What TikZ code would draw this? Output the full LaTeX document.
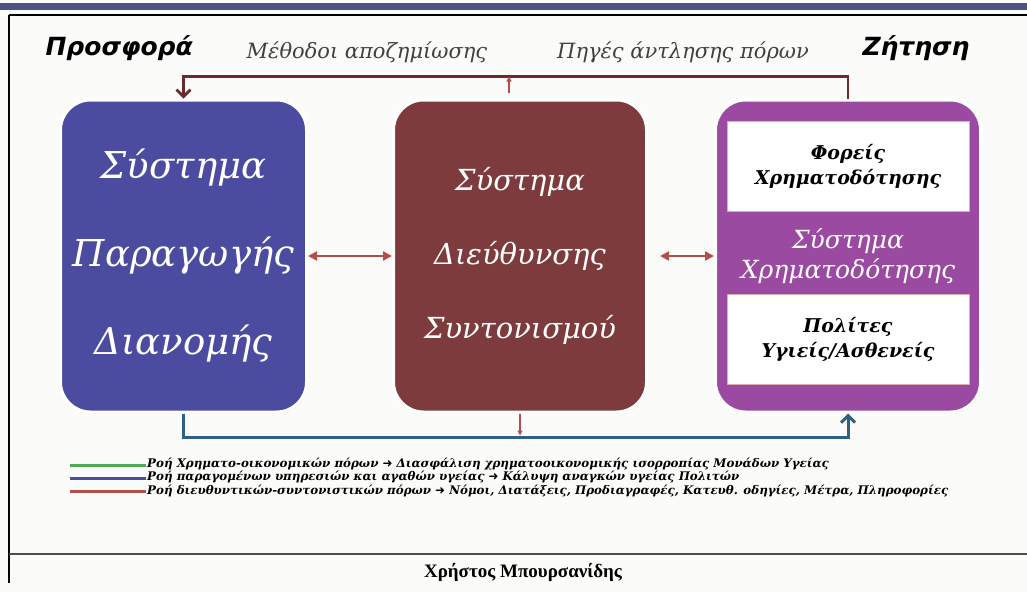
\documentclass[tikz,border=0pt]{standalone}
\usepackage{fontspec}
\setmainfont{Liberation Serif}
\setsansfont{DejaVu Sans}
\newfontfamily\boxfont{DejaVu Serif}
\newfontfamily\arrowfont{DejaVu Sans}
\usepackage{tikz}
\usetikzlibrary{positioning, arrows.meta, calc, shadows}
\usepackage{xcolor}
\definecolor{prodblue}{HTML}{4B4BA0}
\definecolor{dirbrown}{HTML}{7D3B3D}
\definecolor{finpurple}{HTML}{9A4AA0}
\definecolor{flowred}{HTML}{B24E4C}
\definecolor{topred}{HTML}{6B2A2C}
\definecolor{flowteal}{HTML}{2F6282}
\definecolor{legreen}{HTML}{4FAA55}
\definecolor{barblue}{HTML}{4E5285}
\definecolor{paper}{HTML}{FBFBF9}
\newcommand{\goesto}{{\arrowfont ➜}}

\begin{document}
\begin{tikzpicture}[
  x=1pt, y=1pt,
  sysbox/.style={rounded corners=30pt, draw=white, line width=3pt, minimum height=312pt,
    align=center, text=white, drop shadow={opacity=0.2, shadow xshift=1pt, shadow yshift=-1.5pt}},
  inbox/.style={draw=flowred!45, line width=0.8pt, fill=white, minimum width=242pt, minimum height=90pt,
    align=center, font=\boxfont\bfseries\itshape\fontsize{19}{25}\selectfont},
  head/.style={font=\sffamily\bfseries\itshape\fontsize{25}{28}\selectfont},
  flowlbl/.style={font=\boxfont\itshape\fontsize{21}{26}\selectfont, text=black!75},
  legline/.style={line width=3pt},
  legtxt/.style={anchor=west, inner sep=1pt, text height=8pt, text depth=3pt,
    font=\boxfont\bfseries\itshape\fontsize{11.85}{13}\selectfont},
  barb/.style={-{Straight Barb[length=7pt, width=14pt]}},
  small/.style={flowred, line width=1.5pt, -{Triangle[length=5pt, width=5pt]}},
]
  % page frame
  \fill[paper] (0,0) rectangle (1027,-592);
  \useasboundingbox (0,0) rectangle (1027,-592);
  \fill[barblue] (0,-3) rectangle (1027,-10);
  \draw[line width=1.5pt] (9,-15) -- (1027,-15);
  \draw[line width=2pt] (9,-15) -- (9,-583);
  \draw[line width=1.2pt, black!70] (9,-554) -- (1027,-554);

  % the three systems
  \node[sysbox, fill=prodblue, minimum width=246pt, font=\boxfont\itshape\fontsize{37}{88}\selectfont] (prod)
    at (183.5,-256) {Σύστημα\\Παραγωγής\\Διανομής};
  \node[sysbox, fill=dirbrown, minimum width=253pt, right=84pt of prod, font=\boxfont\itshape\fontsize{29}{74}\selectfont] (dir)
    {Σύστημα\\Διεύθυνσης\\Συντονισμού};
  \node[sysbox, fill=finpurple, minimum width=265pt, right=66pt of dir, font=\boxfont\itshape\fontsize{25}{30}\selectfont] (fin)
    {Σύστημα\\Χρηματοδότησης};
  \node[inbox, below=22pt of fin.north] (funders) {Φορείς\\Χρηματοδότησης};
  \node[inbox, above=29pt of fin.south] (citizens) {Πολίτες\\Υγιείς/Ασθενείς};

  % headings
  \node[head, anchor=west] (supply) at (42,-48) {Προσφορά};
  \node[head] (demand) at (916,-48) {Ζήτηση};
  \node[flowlbl] (pay) at (367,-52) {Μέθοδοι αποζημίωσης};
  \node[flowlbl] (src) at (683,-52) {Πηγές άντλησης πόρων};

  % flows
  \draw[topred, line width=2.8pt, barb] (fin.north) -- ++(0,22) -| (prod.north);
  \draw[small] ([xshift=-11pt, yshift=6pt]dir.north) -- ++(0,16);
  \draw[flowred, line width=2.5pt, {Triangle[length=9pt, width=9pt]}-{Triangle[length=9pt, width=9pt]}]
    (prod.east) -- (dir.west);
  \draw[flowred, line width=2.5pt, {Triangle[length=9pt, width=9pt]}-{Triangle[length=9pt, width=9pt]}]
    ([xshift=12pt]dir.east) -- (fin.west);
  \draw[flowteal, line width=3pt, barb] (prod.south) -- ++(0,-24) -| (fin.south);
  \draw[small] (dir.south) -- ++(0,-22);

  % legend
  \node[legtxt] (leg1) at (146,-465)
    {Ροή Χρηματο-οικονομικών πόρων \goesto{} Διασφάλιση χρηματοοικονομικής ισορροπίας Μονάδων Υγείας};
  \node[legtxt, below=0pt of leg1.south west, anchor=north west] (leg2)
    {Ροή παραγομένων υπηρεσιών και αγαθών υγείας \goesto{} Κάλυψη αναγκών υγείας Πολιτών};
  \node[legtxt, below=0pt of leg2.south west, anchor=north west] (leg3)
    {Ροή διευθυντικών-συντονιστικών πόρων \goesto{} Νόμοι, Διατάξεις, Προδιαγραφές, Κατευθ. οδηγίες, Μέτρα, Πληροφορίες};
  \draw[legline, legreen] ($(leg1.west)+(-76,0)$) -- (leg1.west);
  \draw[legline, prodblue] ($(leg2.west)+(-76,0)$) -- (leg2.west);
  \draw[legline, flowred] ($(leg3.west)+(-76,0)$) -- (leg3.west);

  % footer
  \node[font=\bfseries\fontsize{19}{21}\selectfont] (author) at (523,-572) {Χρήστος Μπουρσανίδης};
\end{tikzpicture}
\end{document}
